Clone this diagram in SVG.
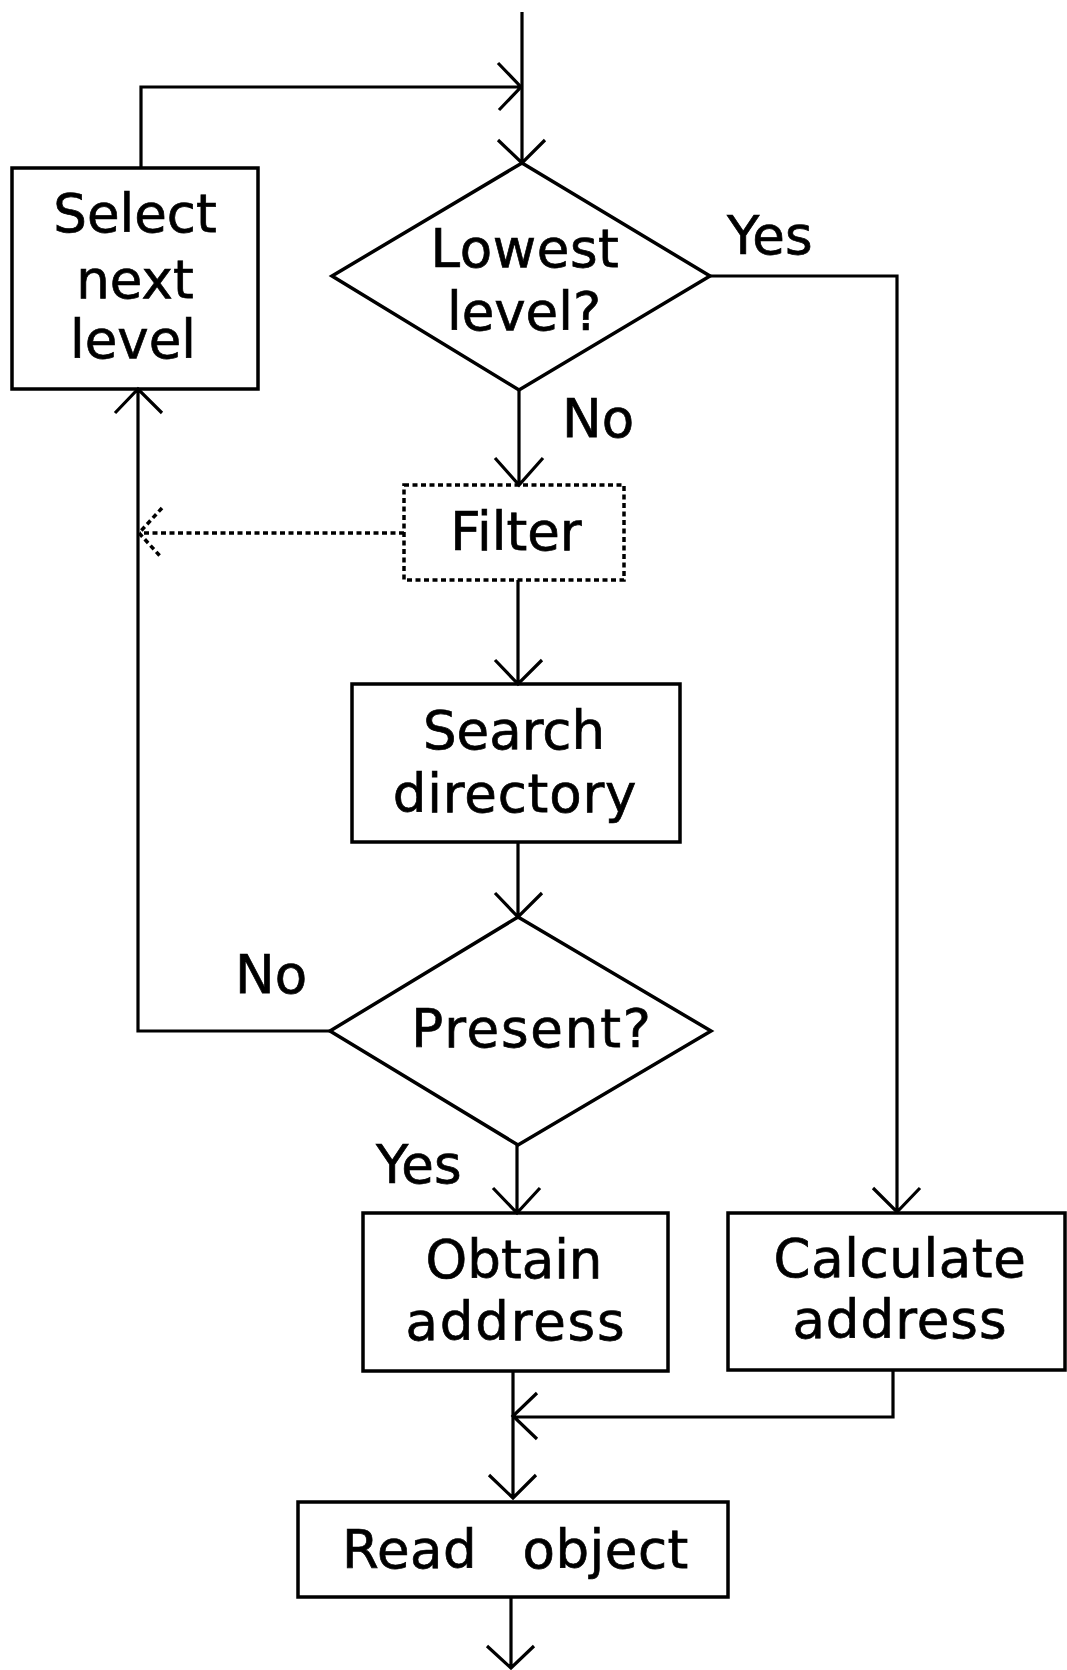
<svg xmlns="http://www.w3.org/2000/svg" width="1067" height="1670" viewBox="0 0 1067 1670">
<style>
.box{fill:none;stroke:#000;stroke-width:3.5}
.dot{fill:none;stroke:#000;stroke-width:3.5;stroke-dasharray:5 3.5}
.ln{fill:none;stroke:#000;stroke-width:3.2;stroke-linejoin:miter}
.dl{fill:none;stroke:#000;stroke-width:3.5;stroke-dasharray:5 3.5}
.t{font-family:"DejaVu Sans",sans-serif;font-size:53px;fill:#000;stroke:#000;stroke-width:0.7}
.c{text-anchor:middle}
</style>
<rect width="1067" height="1670" fill="#fff"/>
<g id="connectors">
<path class="ln" d="M522,12 V163 M498,140 L522,163 L545,140"/>
<path class="ln" d="M141,168 V87 H521 M498,63 L521,87 L499,110"/>
<path class="ln" d="M710,276 H897 V1212 M873,1188 L897,1212 L920,1188"/>
<path class="ln" d="M519,390 V485 M495,458 L519,485 L543,458"/>
<path class="ln" d="M518,580 V684 M495,660 L518,684 L542,660"/>
<path class="ln" d="M518,842 V917 M495,893 L518,917 L542,893"/>
<path class="ln" d="M330,1031 H138 V389 M115,413 L138,389 L162,413"/>
<path class="dl" d="M404,533 H140"/>
<path class="dl" d="M162,508 L139,533 L160,556"/>
<path class="ln" d="M517,1145 V1213 M493,1188 L517,1213 L540,1188"/>
<path class="ln" d="M513,1371 V1498 M489,1475 L513,1498 L536,1475"/>
<path class="ln" d="M893,1370 V1417 H513 M537,1393 L513,1416 L537,1439"/>
<path class="ln" d="M511,1597 V1668 M487,1646 L511,1668 L534,1646"/>
</g>
<g id="labels">
<text class="t" x="727" y="254">Yes</text>
<text class="t" x="562" y="437">No</text>
<text class="t" x="235" y="993">No</text>
<text class="t" x="376" y="1183">Yes</text>
</g>
<g id="select">
<rect class="box" x="12" y="168" width="246" height="221"/>
<text class="t c" x="135" y="232">Select</text>
<text class="t c" x="135" y="298">next</text>
<text class="t c" x="133" y="358">level</text>
</g>
<g id="lowest">
<polygon class="box" points="522,163 710,276 519,390 332,276"/>
<text class="t c" x="525" y="267" letter-spacing="0.6">Lowest</text>
<text class="t c" x="524" y="330">level?</text>
</g>
<g id="filter">
<rect class="dot" x="404" y="485" width="220" height="95"/>
<text class="t c" x="516" y="550">Filter</text>
</g>
<g id="search">
<rect class="box" x="352" y="684" width="328" height="158"/>
<text class="t c" x="514" y="749">Search</text>
<text class="t c" x="515" y="812" letter-spacing="0.8">directory</text>
</g>
<g id="present">
<polygon class="box" points="518,917 711,1031 518,1145 330,1031"/>
<text class="t c" x="532" y="1047" letter-spacing="1.8">Present?</text>
</g>
<g id="obtain">
<rect class="box" x="363" y="1213" width="305" height="158"/>
<text class="t c" x="514" y="1278">Obtain</text>
<text class="t c" x="516" y="1340" letter-spacing="1.8">address</text>
</g>
<g id="calculate">
<rect class="box" x="728" y="1213" width="337" height="157"/>
<text class="t c" x="900" y="1277" letter-spacing="0.6">Calculate</text>
<text class="t c" x="900" y="1338" letter-spacing="1">address</text>
</g>
<g id="read">
<rect class="box" x="298" y="1502" width="430" height="95"/>
<text class="t" x="342" y="1568" word-spacing="28" letter-spacing="0.5">Read object</text>
</g>
</svg>
